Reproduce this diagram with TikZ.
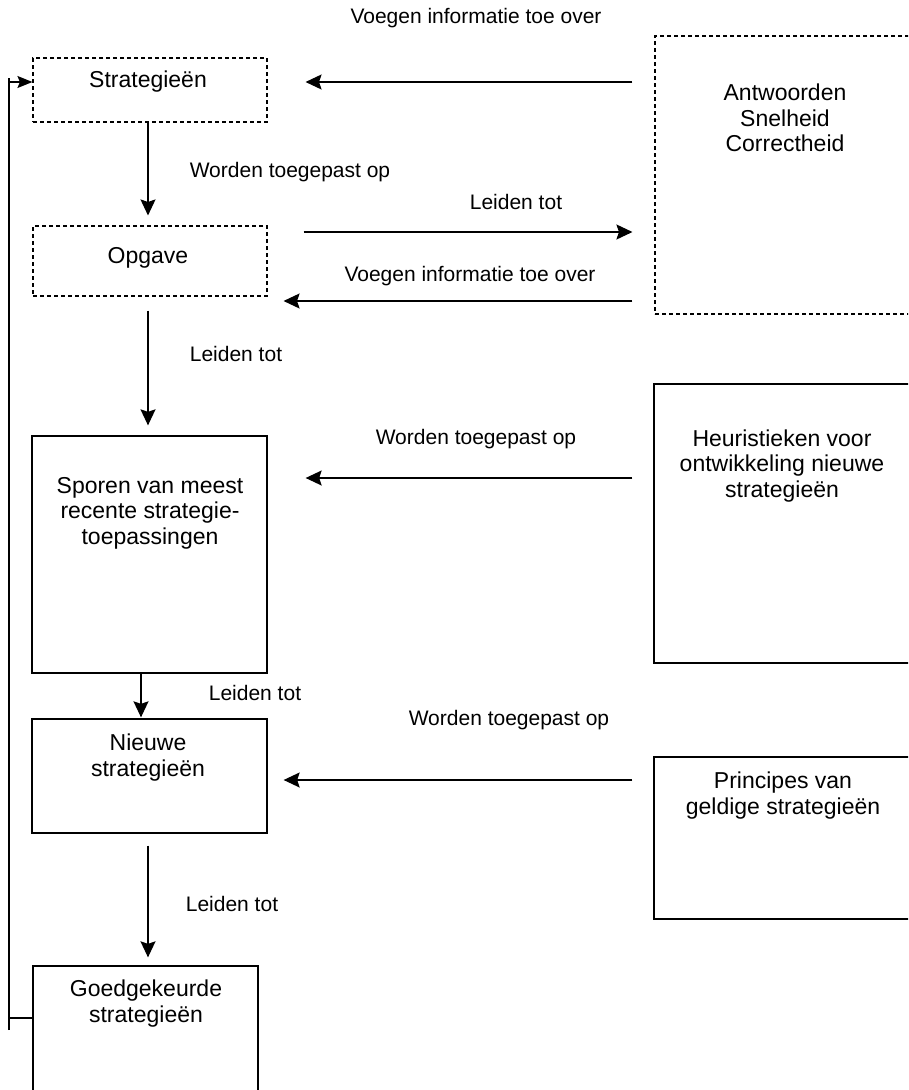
\documentclass[tikz,border=0pt]{standalone}
\usepackage{fontspec}
\setmainfont{Liberation Sans}
\usetikzlibrary{arrows.meta,calc}
\begin{document}
\begin{tikzpicture}[x=1pt,y=-1pt,
 box/.style={draw, line width=1.3pt, inner sep=0pt},
 dbox/.style={box, line width=1.1pt, dash pattern=on 4pt off 3pt},
 btxt/.style={align=center, font=\fontsize{23}{25.5}\selectfont, inner sep=0pt},
 lbl/.style={font=\fontsize{21}{24}\selectfont, inner sep=0pt},
 arr/.style={line width=1.4pt, -{Stealth[length=16pt,width=15pt,inset=2.5pt]}},
 ln/.style={line width=1.4pt}]
\clip (0,0) rectangle (908,1090);
\useasboundingbox (0,0) rectangle (908,1090);

% boxes
\node[dbox, minimum width=234pt, minimum height=64pt] (strat) at (150,90) {};
\node[dbox, minimum width=234pt, minimum height=70pt] (opg) at (150,261) {};
\node[box, minimum width=235pt, minimum height=237pt] (spor) at (149.5,554.5) {};
\node[box, minimum width=235pt, minimum height=114pt] (nieuw) at (149.5,776) {};
\node[box, minimum width=225pt, minimum height=134pt] (goed) at (145.5,1033) {};
\node[dbox, minimum width=275pt, minimum height=278pt] (ant) at (792.5,175) {};
\node[box, minimum width=276pt, minimum height=279pt] (heur) at (792,523.5) {};
\node[box, minimum width=276pt, minimum height=162pt] (princ) at (792,838) {};

% box texts
\node[btxt] (stratT) at (148,82) {Strategieën};
\node[btxt] (opgT) at (148,258) {Opgave};
\node[btxt] (sporT) at (150,513) {Sporen van meest\\recente strategie-\\toepassingen};
\node[btxt] (nieuwT) at (148,757.5) {Nieuwe\\strategieën};
\node[btxt] (goedT) at (146,1003.5) {Goedgekeurde\\strategieën};
\node[btxt] (antT) at (785,118) {Antwoorden\\Snelheid\\Correctheid};
\node[btxt] (heurT) at (782,466) {Heuristieken voor\\ontwikkeling nieuwe\\strategieën};
\node[btxt] (princT) at (783,795.5) {Principes van\\geldige strategieën};

% labels
\node[lbl] (l1) at (476,18) {Voegen informatie toe over};
\node[lbl] (l2) at (290,172) {Worden toegepast op};
\node[lbl] (l3) at (516,202) {Leiden tot};
\node[lbl] (l4) at (470,276) {Voegen informatie toe over};
\node[lbl] (l5) at (236,354) {Leiden tot};
\node[lbl] (l6) at (476,439) {Worden toegepast op};
\node[lbl] (l7) at (255,693) {Leiden tot};
\node[lbl] (l8) at (509,720) {Worden toegepast op};
\node[lbl] (l9) at (232,904) {Leiden tot};

% arrows
\draw[arr] ($(ant.west |- strat.east)+(-22,-8)$) -- ($(strat.east)+(38,-8)$);
\draw[arr] ($(strat.south)+(-2,0)$) -- ($(opg.north)+(-2,-10)$);
\draw[arr] ($(opg.east)+(36,-29)$) -- ($(ant.west |- opg.east)+(-22,-29)$);
\draw[arr] ($(ant.west |- opg.east)+(-22,40)$) -- ($(opg.east)+(16,40)$);
\draw[arr] ($(opg.south)+(-2,14)$) -- ($(spor.north)+(-1.5,-10)$);
\draw[arr] ($(heur.west |- spor.east)+(-21,-76.5)$) -- ($(spor.east)+(38,-76.5)$);
\draw[arr] ($(spor.south)+(-8.5,0)$) -- ($(nieuw.north)+(-8.5,-1)$);
\draw[arr] ($(princ.west |- nieuw.east)+(-21,4)$) -- ($(nieuw.east)+(16,4)$);
\draw[arr] ($(nieuw.south)+(-1.5,12)$) -- ($(goed.north)+(2.5,-8)$);

% feedback loop
\coordinate (fbtop) at (9,78);
\coordinate (fbbot) at (9,1030);
\coordinate (fbjoin) at (9,1018);
\coordinate (fbarr) at (9,82);
\draw[ln] (fbbot) -- (fbtop);
\draw[ln] (fbjoin) -- (fbjoin -| goed.west);
\draw[line width=1.4pt, -{Stealth[length=15pt,width=12pt,inset=2.5pt]}] (fbarr) -- (fbarr -| strat.west);
\end{tikzpicture}
\end{document}
